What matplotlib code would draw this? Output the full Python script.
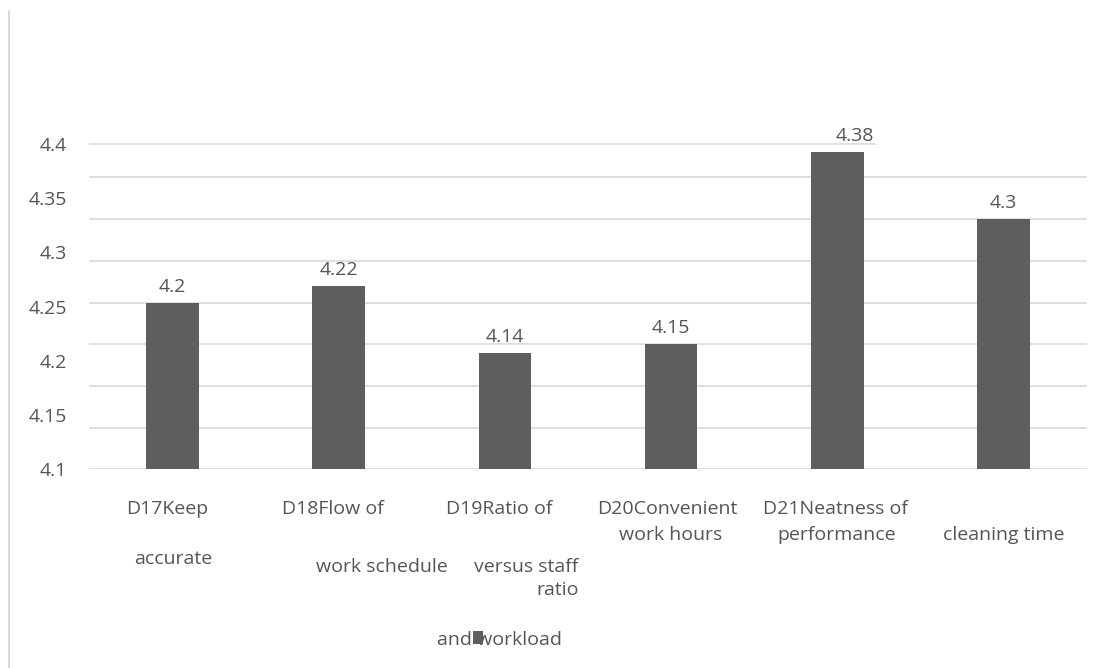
import numpy as np
import matplotlib
matplotlib.use("Agg")
import matplotlib.pyplot as plt
from matplotlib.lines import Line2D
from matplotlib.patches import Rectangle
from matplotlib.transforms import blended_transform_factory

plt.rcParams['font.family'] = ['Open Sans', 'DejaVu Sans']

# ---- data ----
SCORES = [4.2, 4.22, 4.14, 4.15, 4.38, 4.3]
CATEGORY_LINES = [
    ["D17Keep", "accurate"],
    ["D18Flow of", "work schedule"],
    ["D19Ratio of", "versus staff", "ratio", "and workload"],
    ["D20Convenient", "work hours"],
    ["D21Neatness of", "performance"],
    ["cleaning time"],
]
TICK_TEXT = ["4.1", "4.15", "4.2", "4.25", "4.3", "4.35", "4.4"]
GRID_LEVELS = [4.0, 4.05, 4.1, 4.15, 4.2, 4.25, 4.3, 4.35]

# ---- style ----
W, H = 1108, 668
BAR_COLOR = "#5e5e5e"
TEXT_COLOR = "#555555"
GRID_COLOR = "#d9d9d9"
FS = 14

fig = plt.figure(figsize=(W / 100, H / 100), dpi=100)
fig.patch.set_facecolor("white")
ax = fig.add_axes([89.3 / W, 198.7 / H, 997.4 / W, 333.6 / H])

Y_MIN, Y_MAX, TOP_LINE = 4.0, 4.4, 4.39
ax.set_ylim(Y_MIN, Y_MAX)
ax.set_xlim(-0.5, len(SCORES) - 0.5)

x = np.arange(len(SCORES))
ax.bar(x, np.array(SCORES) - Y_MIN, bottom=Y_MIN, width=0.317,
       color=BAR_COLOR, zorder=3)

# horizontal rules
for g in GRID_LEVELS:
    ax.axhline(g, color=GRID_COLOR, lw=1.2, zorder=1)
ax.axhline(TOP_LINE, xmin=0, xmax=0.788, color=GRID_COLOR, lw=1.2, zorder=1)

# value axis text
ax.set_yticks(np.linspace(Y_MIN, TOP_LINE, len(TICK_TEXT)))
ax.set_yticklabels(TICK_TEXT)
ax.set_xticks([])
ax.tick_params(axis="y", length=0, pad=16, labelsize=FS, labelcolor=TEXT_COLOR)
for s in ax.spines.values():
    s.set_visible(False)

# value labels above the bars
label_dx = [0, 0, 0, 0, 12.6, 0]
for xi, v, dx in zip(x, SCORES, label_dx):
    ax.annotate(f"{v:g}", (xi, v), xytext=(dx, 7.9), textcoords="offset points",
                ha="center", va="baseline", fontsize=FS, color=TEXT_COLOR,
                zorder=4)

# category text, placed below the axis (x offsets in px, y centre in px from top)
line_layout = [
    [(-5, 506.5, "center"), (0.5, 557, "center")],
    [(-5.5, 506.5, "center"), (43.5, 565, "center")],
    [(-5.5, 506.5, "center"), (73.5, 565, "right"), (73.5, 588, "right"),
     (-67.5, 638, "left")],
    [(-4, 507, "center"), (0, 533, "center")],
    [(-1.5, 507, "center"), (-0.5, 533, "center")],
    [(0, 533, "center")],
]
px_to_data = len(SCORES) / 997.4
trans = blended_transform_factory(ax.transData, fig.transFigure)
for xi, lines, layout in zip(x, CATEGORY_LINES, line_layout):
    for text, (dxp, yc, ha) in zip(lines, layout):
        ax.text(xi + dxp * px_to_data, 1 - (yc + 7) / H, text, transform=trans,
                ha=ha, va="baseline", fontsize=FS, color=TEXT_COLOR,
                clip_on=False)

# small series key drawn over the wrapped label
fig.add_artist(Rectangle((472.5 / W, 1 - 644 / H), 10.5 / W, 13 / H,
                         transform=fig.transFigure, color=BAR_COLOR, lw=0))

# left frame edge
fig.add_artist(Line2D([8.8 / W, 8.8 / W], [0, 1 - 11 / H],
                      transform=fig.transFigure, color=GRID_COLOR, lw=1.3))

fig.savefig("out.png", dpi=100)
